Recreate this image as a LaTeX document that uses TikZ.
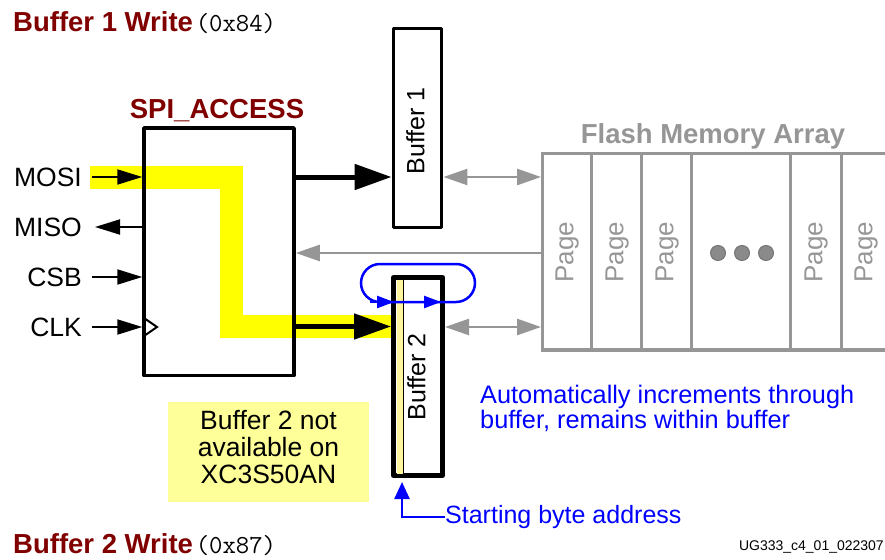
\documentclass[tikz,border=0pt]{standalone}
\usepackage{fontspec}
\setmainfont{Liberation Sans}
\usetikzlibrary{arrows.meta,calc,backgrounds}
\definecolor{xred}{HTML}{800000}
\definecolor{xgray}{HTML}{969696}
\definecolor{dotgray}{HTML}{8A8A8A}
\definecolor{hiyel}{HTML}{FFFF00}
\definecolor{noteyel}{HTML}{FFFF99}
\definecolor{stripeyel}{HTML}{FFF59D}
\definecolor{xblue}{HTML}{0000FF}
\begin{document}
\begin{tikzpicture}[x=1pt,y=-1pt,
  every node/.style={inner sep=0pt},
  lbl/.style={font=\fontsize{25}{26}\selectfont},
  siglbl/.style={font=\fontsize{26.5}{27}\selectfont},
  ttl/.style={font=\fontsize{27.5}{28}\selectfont\bfseries, text=xred},
  box/.style={draw, line width=3.5pt, line join=round, rectangle},
  sig/.style={line width=2pt, -{Triangle[length=25pt,width=15pt]}},
  bus/.style={line width=5pt, -{Triangle[length=37pt,width=25pt]}},
  gline/.style={xgray, line width=2.5pt},
  garr/.style={gline, -{Triangle[length=24pt,width=16pt]}},
  garrtwo/.style={gline, {Triangle[length=24pt,width=16pt]}-{Triangle[length=24pt,width=16pt]}},
  bline/.style={xblue, line width=2.5pt},
  hl/.style={hiyel, line width=23pt, line join=miter, line cap=butt},
  pagelbl/.style={font=\fontsize{26}{27}\selectfont, text=xgray, rotate=90}
]
\useasboundingbox (0,0) rectangle (885,559);

% titles
\node[anchor=base west] (t1) at (13,32) {{\fontsize{27.5}{28}\selectfont\bfseries\color{xred}Buffer 1 Write} {\ttfamily\fontsize{26}{27}\selectfont(0x84)}};
\node[anchor=base west] (t2) at (13,553) {{\fontsize{27.5}{28}\selectfont\bfseries\color{xred}Buffer 2 Write} {\ttfamily\fontsize{26}{27}\selectfont(0x87)}};
\node[anchor=base east, font=\fontsize{14}{15}\selectfont] (ug) at (884,550) {UG333\_c4\_01\_022307};

% SPI block
\node[box, minimum width=150pt, minimum height=247.5pt] (spi) at (219,251.75) {};
\node[ttl, anchor=base] (spit) at (217,118) {SPI\_ACCESS};

% buffers
\node[box, fill=white, minimum width=48.4pt, minimum height=199pt] (buf1) at (417.5,128) {};
\node[lbl, rotate=90] (buf1t) at (415.5,131) {Buffer 1};
\node[box, line width=5pt, fill=white, minimum width=49pt, minimum height=198pt] (buf2) at (418,376.5) {};
\fill[stripeyel] (397.3,280) rectangle (402.6,473.5);
\draw[line width=1.3pt] (403.3,280) -- (403.3,473.5);
\node[lbl, rotate=90] (buf2t) at (416.5,377) {Buffer 2};

% flash memory array
\node[draw=xgray, line width=3.3pt, minimum width=357.3pt, minimum height=196.7pt] (flash) at (721.35,251.65) {};
\node[font=\fontsize{27.5}{28}\selectfont\bfseries, text=xgray, anchor=base] (flasht) at (713,143) {Flash Memory Array};
\foreach \cx in {591.5,641.5,691.5,790.5,841.3}{
  \draw[xgray, line width=2.6pt] (\cx,153.3) -- (\cx,350);
}
\node[pagelbl] (pg1) at (567,252) {Page};
\node[pagelbl] (pg2) at (617,252) {Page};
\node[pagelbl] (pg3) at (667,252) {Page};
\node[pagelbl] (pg4) at (816,252) {Page};
\node[pagelbl] (pg5) at (866,252) {Page};
\foreach \dx in {718,742,766}{
  \draw[dotgray!85!black, fill=dotgray, line width=1pt] (\dx,253) circle[radius=7.5];
}

% left signals
\node[siglbl, anchor=east] (mosi) at (82,177) {MOSI};
\node[siglbl, anchor=east] (miso) at (82,227) {MISO};
\node[siglbl, anchor=east] (csb) at (82,277) {CSB};
\node[siglbl, anchor=east] (clk) at (82,327) {CLK};

% highlight path
\begin{scope}[on background layer]
\draw[hl] (90,177) -- (231,177) -- (231,326.5) -- (buf2.west |- 0,326.5);
\end{scope}

\draw[sig] ([xshift=10pt]mosi.east) -- (spi.west |- mosi.east);
\draw[sig] (spi.west |- miso.east) -- ([xshift=13pt]miso.east);
\draw[sig] ([xshift=10pt]csb.east) -- (spi.west |- csb.east);
\draw[sig] ([xshift=10pt]clk.east) -- (spi.west |- clk.east);
\draw[line width=2pt, line join=miter] ($(spi.west |- clk.east)+(1.75,-9)$) -- ++(13,9) -- ++(-13,9);

% data buses
\draw[bus] (spi.east |- 0,177) -- (buf1.west |- 0,177);
\draw[bus] (spi.east |- 0,326.5) -- (buf2.west |- 0,326.5);

% gray connections
\draw[garrtwo] (buf1.east |- 0,177) -- (flash.west |- 0,177);
\draw[garr] (flash.west |- 0,253) -- (spi.east |- 0,253);
\draw[garrtwo] (buf2.east |- 0,327) -- (flash.west |- 0,327);

% blue loop
\draw[bline] (380,302) -- (456,302) arc[start angle=90,end angle=-90,radius=19] -- (380,264) arc[start angle=-90,end angle=-270,radius=19] -- cycle;
\draw[bline, -{Triangle[length=17pt,width=12pt]}] (370,302) -- (394,302);
\draw[bline, -{Triangle[length=17pt,width=12pt]}] (420,302) -- (441,302);

\node[anchor=north west, align=left, text=xblue, font=\fontsize{25.3}{20}\selectfont] (auto) at (480,385) {Automatically increments through\\buffer, remains within buffer};

% start address
\node[lbl, text=xblue, anchor=west] (start) at (445,517) {Starting byte address};
\draw[bline, -{Triangle[length=17pt,width=15pt]}] (start.west) -| ($(buf2.south)+(-16,4)$);

% note
\node[fill=noteyel, minimum width=201pt, minimum height=100pt] (note) at (268.5,452) {};
\node[siglbl, align=center] (notet) at ($(note.center)+(0,-5)$) {Buffer 2 not\\available on\\XC3S50AN};
\end{tikzpicture}
\end{document}
